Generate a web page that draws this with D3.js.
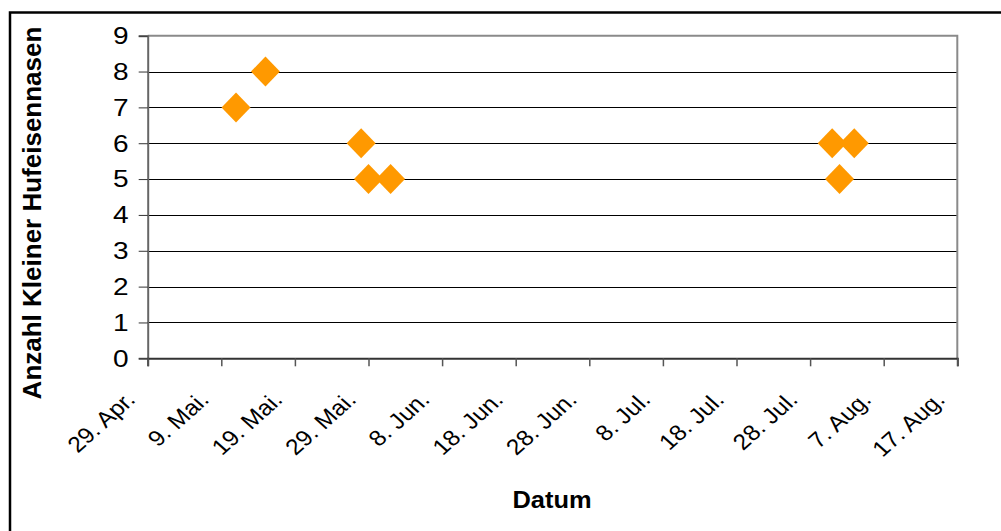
<!DOCTYPE html>
<html>
<head>
<meta charset="utf-8">
<script src="https://cdn.jsdelivr.net/npm/d3@7"></script>
<style>
  html, body { margin: 0; padding: 0; background: #fff; }
  svg { display: block; }
  text { font-family: "Liberation Sans", Arial, sans-serif; fill: #000; }
</style>
</head>
<body>
<svg id="chart" width="1001" height="531"></svg>
<script>
// ---- data ----
const obsDates = ["2009-05-11", "2009-05-15", "2009-05-28", "2009-05-29", "2009-06-01", "2009-07-31", "2009-08-01", "2009-08-03"];
const obsCounts = [7, 8, 6, 5, 5, 6, 5, 6];
const xTickDates = ["2009-04-29", "2009-05-09", "2009-05-19", "2009-05-29", "2009-06-08", "2009-06-18", "2009-06-28", "2009-07-08", "2009-07-18", "2009-07-28", "2009-08-07", "2009-08-17"];
const xTickLabels = ["29. Apr.", "9. Mai.", "19. Mai.", "29. Mai.", "8. Jun.", "18. Jun.", "28. Jun.", "8. Jul.", "18. Jul.", "28. Jul.", "7. Aug.", "17. Aug."];
const yTicks = [0, 1, 2, 3, 4, 5, 6, 7, 8, 9];
const xTitle = "Datum";
const yTitle = "Anzahl Kleiner Hufeisennasen";

// ---- layout ----
const svg = d3.select("#chart");
const L = 147.7, R = 957.3, T = 35.7, B = 358.3;
const parse = d3.utcParse("%Y-%m-%d");

const x = d3.scaleUtc()
  .domain([parse(xTickDates[0]), parse(xTickDates[xTickDates.length - 1])])
  .range([L, R]);
const y = d3.scaleLinear().domain([0, 9]).range([B, T]);

svg.append("rect").attr("width", 1001).attr("height", 531).attr("fill", "#fff");

// outer chart border
svg.append("rect")
  .attr("x", 10).attr("y", 12.5).attr("width", 1010).attr("height", 540)
  .attr("fill", "none").attr("stroke", "#000").attr("stroke-width", 2.5);

// gridlines
svg.append("g").selectAll("line")
  .data(yTicks.filter(d => d > 0 && d < 9))
  .join("line")
  .attr("x1", L).attr("x2", R)
  .attr("y1", d => Math.round(y(d)) + 0.5).attr("y2", d => Math.round(y(d)) + 0.5)
  .attr("stroke", "#000").attr("stroke-width", 1);

// plot border top / right
svg.append("path")
  .attr("d", `M${L},${T}H${R}V${B}`)
  .attr("fill", "none").attr("stroke", "#8a8a8a").attr("stroke-width", 2);

// y axis
const yAxis = svg.append("g").attr("transform", `translate(${L},0)`)
  .call(d3.axisLeft(y).tickValues(yTicks).tickSize(9).tickFormat(""));
yAxis.select(".domain").attr("stroke", "#666").attr("stroke-width", 2);
yAxis.selectAll(".tick line").attr("stroke", "#333").attr("stroke-width", 1);

svg.append("g").selectAll("text")
  .data(yTicks)
  .join("text")
  .attr("transform", d => `translate(128.5,${y(d)}) scale(1.22,1)`)
  .attr("dy", "0.36em")
  .attr("text-anchor", "end")
  .style("font-size", "23px")
  .text(d => d);

// x axis
const xAxis = svg.append("g").attr("transform", `translate(0,${B})`)
  .call(d3.axisBottom(x).tickValues(xTickDates.map(parse)).tickSize(8).tickFormat(""));
xAxis.select(".domain").attr("stroke", "#333").attr("stroke-width", 2);
xAxis.selectAll(".tick line").attr("stroke", "#555").attr("stroke-width", 1.5);

svg.append("g").selectAll("text")
  .data(xTickDates)
  .join("text")
  .attr("transform", d => `translate(${x(parse(d)) - 11},401) scale(1.12,1) rotate(-45)`)
  .attr("text-anchor", "end")
  .style("font-size", "22px")
  .text((d, i) => xTickLabels[i]);

// diamonds
const diamond = {
  draw(ctx, size) {
    const hx = 14.5, hy = 15;
    ctx.moveTo(0, -hy); ctx.lineTo(hx, 0); ctx.lineTo(0, hy); ctx.lineTo(-hx, 0); ctx.closePath();
  }
};
svg.append("g").selectAll("path")
  .data(obsDates.map((d, i) => ({ date: parse(d), v: obsCounts[i] })))
  .join("path")
  .attr("transform", d => `translate(${x(d.date)},${y(d.v)})`)
  .attr("d", d3.symbol().type(diamond).size(1))
  .attr("fill", "#FF9900");

// axis titles
svg.append("text")
  .attr("transform", "translate(552,507.5) scale(1.06,1)")
  .attr("text-anchor", "middle")
  .style("font-size", "24px").style("font-weight", "bold")
  .text(xTitle);

svg.append("text")
  .attr("transform", "translate(40.5,213) rotate(-90)")
  .attr("text-anchor", "middle")
  .style("font-size", "26px").style("font-weight", "bold")
  .text(yTitle);
</script>
</body>
</html>
